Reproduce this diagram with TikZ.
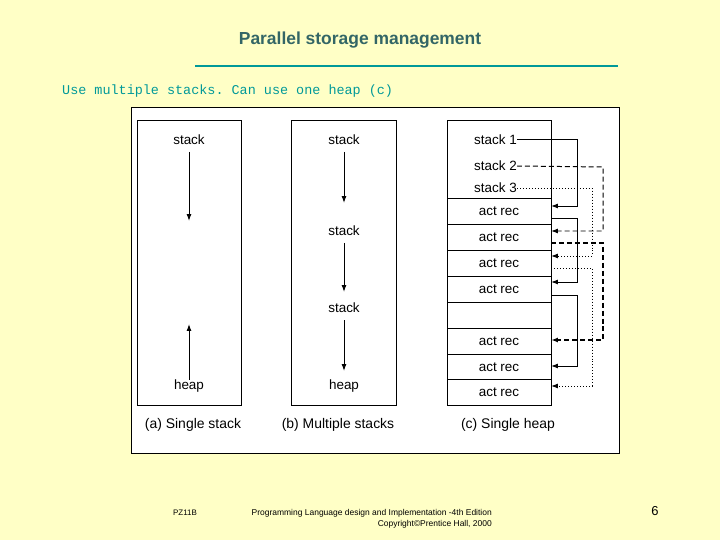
\documentclass[tikz,border=0pt]{standalone}
\usepackage{fontspec}
\setmainfont{Liberation Sans}
\setmonofont{Liberation Mono}
\usetikzlibrary{arrows.meta}
\definecolor{slidebg}{HTML}{FFFFC6}
\definecolor{titlecol}{HTML}{336666}
\definecolor{rulecol}{HTML}{009999}
\tikzset{
  lbl/.style={font=\fontsize{13.5}{15}\selectfont, inner sep=0pt},
  captxt/.style={font=\fontsize{14}{16}\selectfont, inner sep=0pt},
  col/.style={draw, line width=1pt, fill=white},
  link/.style={-{Latex[length=7pt,width=5pt]}, line width=1pt},
  longdash/.style={dash pattern=on 5pt off 3pt},
}
\begin{document}
\begin{tikzpicture}[x=1bp, y=-1bp]
		\useasboundingbox[fill=slidebg] (0,0) rectangle (720,540);
		% title and rule
		\node[text=titlecol, font=\fontsize{17.5}{20}\selectfont\bfseries] (title) at (360,40) {Parallel storage management};
		\draw[rulecol, line width=2pt] (195,66) -- (618,66);
		\node[anchor=west, text=rulecol, font=\ttfamily\fontsize{13.5}{15}\selectfont, inner sep=0pt] (sub) at (62,91) {Use multiple stacks. Can use one heap (c)};
		% panel
		\draw[fill=white, line width=1pt] (131,108) rectangle (619,453);
		\draw[col] (137,121) rectangle (241,405);
		\draw[col] (291,121) rectangle (396,405);
		\draw[col] (447,121) rectangle (551,405);
		% (a) single stack
		\node[lbl] (sa) at (189,140) {stack};
		\draw[link] (189,152) -- (189,221);
		\draw[link] (189,380) -- (189,324);
		\node[lbl] (ha) at (189,386) {heap};
		% (b) multiple stacks
		\node[lbl] (sb1) at (344,140) {stack};
		\draw[link] (344,152) -- (344,203);
		\node[lbl] (sb2) at (344,231) {stack};
		\draw[link] (344,243) -- (344,292);
		\node[lbl] (sb3) at (344,308) {stack};
		\draw[link] (344,320) -- (344,371);
		\node[lbl] (hb) at (344,386) {heap};
		% (c) single heap
		\node[lbl, anchor=west] (s1) at (474,140) {stack 1};
		\node[lbl, anchor=west] (s2) at (474,166) {stack 2};
		\node[lbl, anchor=west] (s3) at (474,188) {stack 3};
		\foreach \y in {198,224,250,276,302,328,354,379}
			\draw[line width=1pt] (447,\y) -- (551,\y);
		\foreach \y/\n in {211/r1,237/r2,263/r3,289/r4,341/r6,367/r7,392/r8}
			\node[lbl] (\n) at (499,\y) {act rec};
		% links
		\draw[link] (s1.east) -- (577,140) -- (577,206) -- (551,206);
		\draw[link] (551,218) -- (577,218) -- (577,282) -- (551,282);
		\draw[link] (551,295) -- (577,295) -- (577,366) -- (551,366);
		\draw[link, longdash] (s2.east) -- (603,167) -- (603,231) -- (551,231);
		\draw[link, longdash, line width=1.5pt] (551,243) -- (603,243) -- (603,340) -- (551,340);
		\draw[link, dotted] (s3.east) -- (592,188) -- (592,256) -- (551,256);
		\draw[link, dotted] (551,268) -- (592,268) -- (592,386) -- (551,386);
		% captions
		\node[captxt] (ca) at (193,425) {(a) Single stack};
		\node[captxt] (cb) at (338,425) {(b) Multiple stacks};
		\node[captxt] (cc) at (508,425) {(c) Single heap};
		% footer
		\node[font=\fontsize{8}{9}\selectfont, inner sep=0pt] (pz) at (185,513) {PZ11B};
		\node[font=\fontsize{8.5}{11}\selectfont, align=right, anchor=east, inner sep=0pt] (ft) at (492,519) {Programming Language design and Implementation -4th Edition\\Copyright\textcopyright Prentice Hall, 2000};
		\node[font=\fontsize{13}{14}\selectfont, inner sep=0pt] (pg) at (655,511) {6};
	\end{tikzpicture}
\end{document}
